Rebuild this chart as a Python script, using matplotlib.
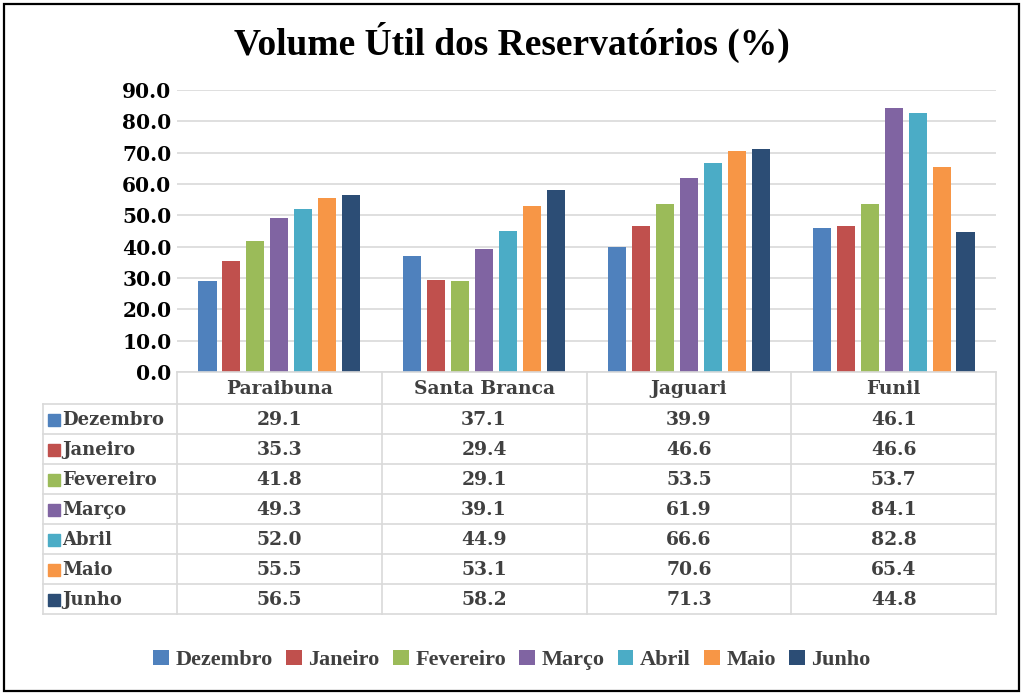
import matplotlib.pyplot as plt
import numpy as np
from matplotlib.patches import Rectangle

# data
reservatorios = ['Paraibuna', 'Santa Branca', 'Jaguari', 'Funil']
meses = ['Dezembro', 'Janeiro', 'Fevereiro', 'Março', 'Abril', 'Maio', 'Junho']
dezembro = [29.1, 37.1, 39.9, 46.1]
janeiro = [35.3, 29.4, 46.6, 46.6]
fevereiro = [41.8, 29.1, 53.5, 53.7]
marco = [49.3, 39.1, 61.9, 84.1]
abril = [52.0, 44.9, 66.6, 82.8]
maio = [55.5, 53.1, 70.6, 65.4]
junho = [56.5, 58.2, 71.3, 44.8]
valores = [dezembro, janeiro, fevereiro, marco, abril, maio, junho]
cores = ['#4F81BD', '#C0504D', '#9BBB59', '#8064A2', '#4BACC6', '#F79646', '#2C4D75']
yticks = np.arange(0, 100, 10)

W, H = 1024, 696
fig = plt.figure(figsize=(W / 100, H / 100), dpi=100)

def fx(px):
    return px / W

def fy(py):
    return 1 - py / H

# outer frame
fig.patches.append(Rectangle((fx(4), fy(691)), fx(1015), (687) / H, transform=fig.transFigure,
                             fill=False, edgecolor='black', linewidth=1.6))

# plot area in pixels
X0, X1 = 177, 996
Y0, Y1 = 372, 90
ax = fig.add_axes([fx(X0), fy(Y0), fx(X1 - X0), (Y0 - Y1) / H])
n = len(reservatorios)
x = np.arange(n)
bw = 0.088
step = 0.117
for i, (m, vals) in enumerate(zip(meses, valores)):
    ax.bar(x + (i - 3) * step, vals, width=bw, color=cores[i], label=m, zorder=3)
ax.set_xlim(-0.5, n - 0.5)
ax.set_ylim(0, 90)
ax.set_yticks(yticks)
ax.set_yticklabels(['%.1f' % t for t in yticks], fontfamily='DejaVu Serif',
                   fontweight='bold', fontsize=14.5, color='black')
ax.tick_params(axis='y', length=0, pad=4)
ax.set_xticks([])
ax.grid(axis='y', color='#D9D9D9', linewidth=1.2, zorder=0)
for s in ax.spines.values():
    s.set_visible(False)

# title
fig.text(0.5, fy(42), 'Volume Útil dos Reservatórios (%)', ha='center', va='center',
         fontfamily='Liberation Serif', fontweight='bold', fontsize=27, color='black')

# data table
TL = 43
ROW0, RH = 404, 30
ROWEND = ROW0 + RH * len(meses)
tab = fig.add_axes([fx(TL), fy(ROWEND), fx(X1 - TL), (ROWEND - Y0) / H])
tab.set_xlim(TL, X1)
tab.set_ylim(ROWEND, Y0)
tab.axis('off')
gc = '#D9D9D9'
cw = (X1 - X0) / n
tab.plot([X0, X1], [Y0, Y0], color=gc, lw=1.2, clip_on=False)
for r in range(len(meses) + 1):
    yy = ROW0 + r * RH
    tab.plot([TL, X1], [yy, yy], color=gc, lw=1.2, clip_on=False)
tab.plot([TL, TL], [ROW0, ROWEND], color=gc, lw=1.2, clip_on=False)
for c in range(n + 1):
    xx = X0 + c * cw
    tab.plot([xx, xx], [Y0, ROWEND], color=gc, lw=1.2, clip_on=False)

tcol = '#404040'
tfont = dict(fontfamily='DejaVu Serif', fontweight='bold', fontsize=13.5, color=tcol)
for c, nome in enumerate(reservatorios):
    tab.text(X0 + (c + 0.5) * cw, (Y0 + ROW0) / 2 + 1, nome, ha='center', va='center', **tfont)
for r, (m, vals) in enumerate(zip(meses, valores)):
    yc = ROW0 + (r + 0.5) * RH + 1
    tab.add_patch(Rectangle((48, yc - 6), 12, 12, color=cores[r], clip_on=False))
    tab.text(62, yc, m, ha='left', va='center', fontfamily='DejaVu Serif',
             fontweight='bold', fontsize=13, color=tcol)
    for c, v in enumerate(vals):
        tab.text(X0 + (c + 0.5) * cw, yc, '%.1f' % v, ha='center', va='center', **tfont)

# legend
handles, labels = ax.get_legend_handles_labels()
fig.legend(handles, labels, loc='center', bbox_to_anchor=(0.5, fy(660)), ncol=7, frameon=False,
           handlelength=0.7, handleheight=0.7, handletextpad=0.3, columnspacing=0.6,
           prop={'family': 'Liberation Serif', 'weight': 'bold', 'size': 16},
           labelcolor='#404040')

fig.savefig('out.png', dpi=100)
